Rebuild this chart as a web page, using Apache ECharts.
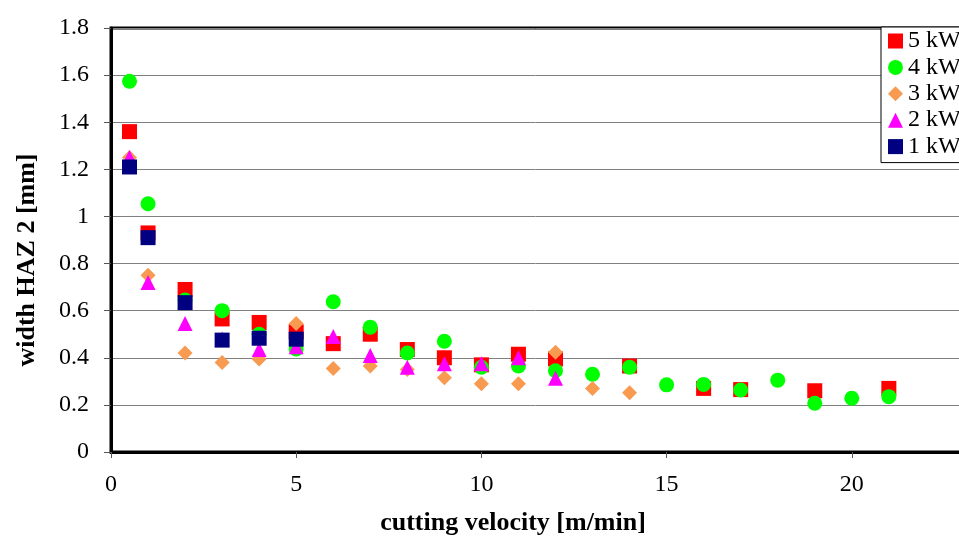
<!DOCTYPE html>
<html>
<head>
<meta charset="utf-8">
<script src="https://cdn.jsdelivr.net/npm/echarts@6/dist/echarts.min.js"></script>
<style>
  html, body { margin: 0; padding: 0; background: #fff; }
  #chart { width: 959px; height: 536px; }
</style>
</head>
<body>
<div id="chart"></div>
<script>
// cutting velocity [m/min] and width HAZ 2 [mm] for each laser power
var v5 = [0.5, 1, 2, 3, 4, 5, 6, 7, 8, 9, 10, 11, 12, 14, 16, 17, 19, 21];
var w5 = [1.36, 0.93, 0.69, 0.565, 0.55, 0.51, 0.46, 0.5, 0.435, 0.4, 0.37, 0.415, 0.395, 0.365, 0.27, 0.265, 0.26, 0.27];

var v4 = [0.5, 1, 2, 3, 4, 5, 6, 7, 8, 9, 10, 11, 12, 13, 14, 15, 16, 17, 18, 19, 20, 21];
var w4 = [1.574, 1.054, 0.645, 0.6, 0.5, 0.437, 0.638, 0.53, 0.42, 0.47, 0.36, 0.365, 0.345, 0.33, 0.36, 0.285, 0.287, 0.263, 0.305, 0.207, 0.228, 0.235];

var v3 = [0.5, 1, 2, 3, 4, 5, 6, 7, 8, 9, 10, 11, 12, 13, 14];
var w3 = [1.25, 0.75, 0.42, 0.38, 0.395, 0.545, 0.355, 0.365, 0.35, 0.315, 0.29, 0.29, 0.423, 0.27, 0.252];

var v2 = [0.5, 1, 2, 3, 4, 5, 6, 7, 8, 9, 10, 11, 12];
var w2 = [1.25, 0.72, 0.545, 0.48, 0.435, 0.447, 0.49, 0.41, 0.36, 0.375, 0.375, 0.4, 0.313];

var v1 = [0.5, 1, 2, 3, 4, 5];
var w1 = [1.21, 0.91, 0.634, 0.475, 0.483, 0.479];

var seriesNames = ["5 kW", "4 kW", "3 kW", "2 kW", "1 kW"];

function pairs(xs, ys) {
  return xs.map(function (x, i) { return [x, ys[i]]; });
}

var serif = "Liberation Serif";
var chart = echarts.init(document.getElementById("chart"));

var option = {
  animation: false,
  textStyle: { fontFamily: serif },
  grid: {
    left: 111,
    top: 28,
    width: 926,
    height: 424,
    outerBoundsMode: "none",
    containLabel: false,
    show: true,
    borderColor: "#000",
    borderWidth: 3
  },
  legend: {
    orient: "vertical",
    left: 881,
    top: 27,
    padding: [2, 30, 4, 7],
    itemWidth: 15,
    itemHeight: 15,
    itemGap: 2.4,
    borderColor: "#000",
    borderWidth: 1,
    backgroundColor: "#fff",
    textStyle: { fontFamily: serif, fontSize: 24, color: "#000", lineHeight: 15 },
    data: seriesNames
  },
  xAxis: {
    type: "value",
    min: 0,
    max: 25,
    interval: 5,
    axisLine: { lineStyle: { color: "#000", width: 3 } },
    axisTick: { show: true, length: 6, lineStyle: { color: "#555" } },
    axisLabel: { fontSize: 24, color: "#000", margin: 21, fontFamily: serif },
    splitLine: { show: false }
  },
  yAxis: {
    type: "value",
    min: 0,
    max: 1.8,
    interval: 0.2,
    axisLine: { show: true, lineStyle: { color: "#000", width: 3 } },
    axisTick: { show: true, length: 7, lineStyle: { color: "#555" } },
    axisLabel: { fontSize: 24, color: "#000", margin: 22, fontFamily: serif },
    splitLine: { show: true, lineStyle: { color: "#808080", width: 1 } }
  },
  graphic: [
    {
      type: "text",
      x: 513,
      y: 523,
      style: {
        text: "cutting velocity [m/min]",
        font: "bold 26px 'Liberation Serif'",
        fill: "#000",
        align: "center",
        verticalAlign: "middle"
      }
    },
    {
      type: "text",
      x: 27,
      y: 260,
      rotation: Math.PI / 2,
      style: {
        text: "width HAZ 2 [mm]",
        font: "bold 26px 'Liberation Serif'",
        fill: "#000",
        align: "center",
        verticalAlign: "middle"
      }
    }
  ],
  series: [
    {
      name: "5 kW", type: "scatter", symbol: "rect", symbolSize: 15,
      itemStyle: { color: "#FF0000", opacity: 1 }, data: pairs(v5, w5)
    },
    {
      name: "4 kW", type: "scatter", symbol: "circle", symbolSize: 15,
      itemStyle: { color: "#00FF00", opacity: 1 }, data: pairs(v4, w4)
    },
    {
      name: "3 kW", type: "scatter", symbol: "diamond", symbolSize: 15,
      itemStyle: { color: "#F89A50", opacity: 1 }, data: pairs(v3, w3)
    },
    {
      name: "2 kW", type: "scatter", symbol: "triangle", symbolSize: 15,
      itemStyle: { color: "#FF00FF", opacity: 1 }, data: pairs(v2, w2)
    },
    {
      name: "1 kW", type: "scatter", symbol: "rect", symbolSize: 15,
      itemStyle: { color: "#000080", opacity: 1 }, data: pairs(v1, w1)
    }
  ]
};

chart.setOption(option);
</script>
</body>
</html>
